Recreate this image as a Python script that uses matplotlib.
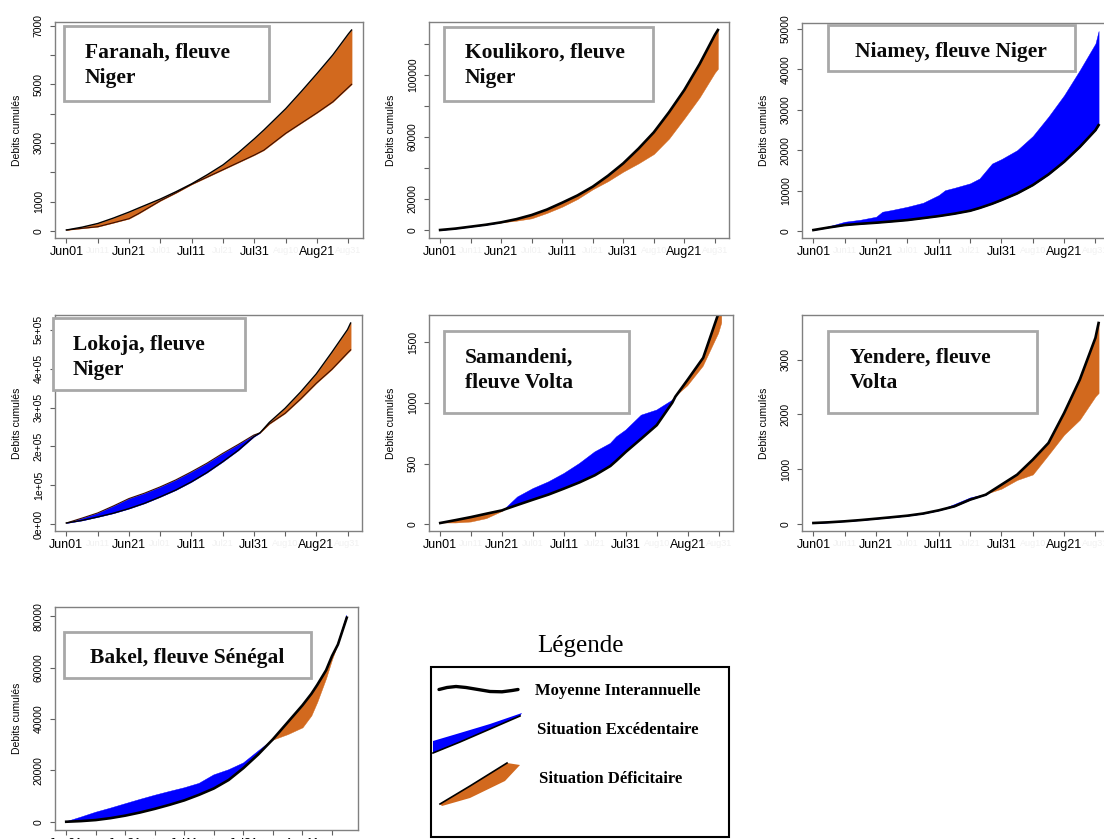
import matplotlib.pyplot as plt
from matplotlib.patches import Rectangle, Polygon
import numpy as np

plt.rcParams['font.family'] = ['Liberation Sans', 'DejaVu Sans']

BLUE = '#0000FF'
ORANGE = '#D2691E'
SERIF = 'Liberation Serif'

# =========================
# Data (days since Jun 01, cumulative discharge)
# =========================
faranah_days = [0, 5, 10, 15, 20, 23, 30, 35, 40, 45, 50, 55, 60, 63, 70, 75, 80, 85, 90, 91]
faranah_mean = [33, 130, 255, 440, 645, 780, 1090, 1340, 1610, 1920, 2255, 2680, 3145, 3440,
                4170, 4760, 5370, 6000, 6720, 6850]
faranah_obs = [33, 90, 145, 280, 420, 590, 1030, 1300, 1590, 1840, 2090, 2340, 2590, 2755,
               3330, 3680, 4030, 4400, 4900, 5000]

koulikoro_days = [0, 5, 10, 15, 20, 25, 30, 35, 40, 45, 50, 55, 60, 65, 70, 75, 80, 85, 90, 91]
koulikoro_mean = [0, 900, 2150, 3400, 4950, 7000, 9680, 13200, 17630, 22300, 27960, 35000,
                  43000, 52500, 63000, 76000, 90300, 107000, 125800, 129000]
koulikoro_obs = [0, 1000, 2300, 3500, 4900, 6000, 7530, 11000, 15050, 20000, 26240, 31500,
                 37630, 43000, 49000, 59000, 72000, 85500, 101500, 104000]

niamey_days = [0, 5, 10, 15, 20, 22, 25, 30, 35, 40, 42, 45, 50, 53, 57, 60, 65, 70, 75, 80, 85, 90, 91]
niamey_mean = [250, 900, 1480, 1800, 2060, 2190, 2380, 2720, 3200, 3700, 3940, 4300, 5020,
               5700, 6750, 7660, 9300, 11370, 14000, 17130, 20800, 24960, 26200]
niamey_obs = [250, 1200, 2300, 2800, 3540, 4780, 5200, 6010, 7000, 8900, 10100, 10700, 11800,
              13000, 16700, 17800, 20000, 23500, 28300, 33600, 39800, 46400, 49500]

lokoja_days = [0, 5, 10, 15, 20, 25, 30, 35, 40, 45, 50, 55, 60, 62, 65, 70, 75, 80, 85, 90, 91]
lokoja_mean = [3400, 10000, 18900, 28500, 40300, 54000, 70400, 88000, 109000, 133000, 160500,
               190000, 224900, 235000, 262000, 297900, 340000, 386300, 442000, 500000, 517000]
lokoja_obs = [3400, 16000, 29200, 47000, 66100, 80000, 96100, 114000, 134800, 157000, 182000,
              205000, 229200, 235000, 258000, 285000, 322000, 362200, 398000, 440000, 448000]

samandeni_days = [0, 5, 10, 15, 20, 21, 25, 30, 35, 40, 45, 50, 55, 57, 60, 65, 70, 75, 76, 80, 85, 90, 91]
samandeni_mean = [11, 35, 60, 88, 115, 125, 160, 203, 245, 294, 345, 404, 480, 525, 596, 705,
                  816, 1000, 1050, 1190, 1370, 1740, 1790]
samandeni_obs = [11, 11, 19, 47, 105, 129, 225, 294, 349, 418, 500, 596, 665, 720, 775, 898,
                 940, 1020, 1050, 1140, 1300, 1571, 1656]

yendere_days = [0, 5, 10, 15, 20, 25, 30, 35, 40, 45, 50, 55, 60, 65, 70, 75, 80, 85, 90, 91]
yendere_mean = [12, 25, 43, 65, 91, 118, 146, 185, 244, 317, 439, 530, 713, 896, 1171, 1476,
                2024, 2634, 3400, 3671]
yendere_obs = [12, 25, 48, 65, 91, 118, 146, 185, 244, 360, 480, 545, 640, 800, 900, 1260,
               1628, 1902, 2329, 2390]

bakel_days = [0, 5, 10, 15, 20, 25, 30, 35, 40, 45, 50, 55, 60, 65, 70, 75, 80, 83, 85, 88, 90, 92, 95]
bakel_mean = [0, 250, 660, 1400, 2380, 3600, 5020, 6600, 8330, 10500, 12960, 16260, 20890,
              26180, 32130, 38740, 45360, 49800, 53290, 59000, 64530, 69000, 79470]
bakel_obs = [0, 1800, 3700, 5300, 7010, 8700, 10310, 11800, 13220, 14940, 18250, 20230, 22880,
             27500, 32000, 34120, 36760, 41390, 46680, 55940, 63210, 69500, 80400]

tick_days = list(range(0, 91, 10))
month_labels = ["Jun01", "Jun11", "Jun21", "Jul01", "Jul11", "Jul21", "Jul31", "Aug10", "Aug21", "Aug31"]
bakel_labels = ["Jun01", "Jun11", "Jun21", "Jul01", "Jul11", "Jul21", "Jul31", "Aug01", "Aug11", "Aug21"]

# data, frame (px: left, top, right, bottom), y ticks, y labels, style
panels = [
    dict(days=faranah_days, mean=faranah_mean, obs=faranah_obs, frame=(55, 22, 363, 238),
         yticks=list(range(0, 7001, 1000)),
         ylabels=["0", "1000", "", "3000", "", "5000", "", "7000"],
         thin=True, xlabels=month_labels),
    dict(days=koulikoro_days, mean=koulikoro_mean, obs=koulikoro_obs, frame=(429, 22, 729, 238),
         yticks=list(range(0, 120001, 20000)),
         ylabels=["0", "20000", "", "60000", "", "100000", ""],
         thin=False, xlabels=month_labels),
    dict(days=niamey_days, mean=niamey_mean, obs=niamey_obs, frame=(802, 23, 1110, 238),
         yticks=list(range(0, 50001, 10000)),
         ylabels=["0", "10000", "20000", "30000", "40000", "50000"],
         thin=False, xlabels=month_labels),
    dict(days=lokoja_days, mean=lokoja_mean, obs=lokoja_obs, frame=(55, 315, 362, 531),
         yticks=list(range(0, 500001, 100000)),
         ylabels=["0e+00", "1e+05", "2e+05", "3e+05", "4e+05", "5e+05"],
         thin=True, xlabels=month_labels),
    dict(days=samandeni_days, mean=samandeni_mean, obs=samandeni_obs, frame=(429, 315, 733, 531),
         yticks=[0, 500, 1000, 1500], ylabels=["0", "500", "1000", "1500"],
         thin=False, xlabels=month_labels, ylim_obs=True),
    dict(days=yendere_days, mean=yendere_mean, obs=yendere_obs, frame=(802, 315, 1110, 531),
         yticks=[0, 1000, 2000, 3000], ylabels=["0", "1000", "2000", "3000"],
         thin=False, xlabels=month_labels),
    dict(days=bakel_days, mean=bakel_mean, obs=bakel_obs, frame=(55, 607, 358, 830),
         yticks=list(range(0, 80001, 20000)),
         ylabels=["0", "20000", "40000", "60000", "80000"],
         thin=False, xlabels=bakel_labels),
]

W, H = 1104, 839
fig = plt.figure(figsize=(W / 100, H / 100), dpi=100)

for p in panels:
    x0, y0, x1, y1 = p["frame"]
    ax = fig.add_axes([x0 / W, 1 - y1 / H, (x1 - x0) / W, (y1 - y0) / H])
    d = np.array(p["days"], dtype=float)
    m = np.array(p["mean"], dtype=float)
    o = np.array(p["obs"], dtype=float)

    ax.fill_between(d, m, o, where=o >= m, interpolate=True, color=BLUE, lw=0.3)
    ax.fill_between(d, m, o, where=o < m, interpolate=True, color=ORANGE, lw=0.3)
    if p["thin"]:
        ax.plot(d, o, color="#3a0c00", lw=0.8)
        ax.plot(d, m, color="black", lw=1.0)
    else:
        ax.plot(d, m, color="black", lw=1.9)

    # R-like 4% padding
    xpad = 0.04 * (d.max() - d.min())
    ax.set_xlim(d.min() - xpad, d.max() + xpad)
    vals = o if p.get("ylim_obs") else np.concatenate([m, o])
    ypad = 0.04 * (vals.max() - vals.min())
    ax.set_ylim(vals.min() - ypad, vals.max() + ypad)

    ax.set_xticks(tick_days)
    ax.set_xticklabels(p["xlabels"])
    ax.tick_params(axis="x", length=3.6, pad=2, labelsize=9, color="#606060")
    for i, lab in enumerate(ax.get_xticklabels()):
        if i % 2:
            lab.set_color("#f1f1f1")
            lab.set_fontsize(6.5)

    ax.set_yticks(p["yticks"])
    ax.set_yticklabels(p["ylabels"], rotation=90, va="center")
    ax.tick_params(axis="y", length=3.6, pad=4.5, labelsize=7.5, color="#606060")

    ax.set_ylabel("Debits cumulés", fontsize=7.5)
    ax.yaxis.set_label_coords(-33 / (x1 - x0), 0.5)

    for s in ax.spines.values():
        s.set_color("#808080")
        s.set_linewidth(1.0)

# =========================
# Overlay: station boxes and legend (pixel coordinates)
# =========================
ov = fig.add_axes([0, 0, 1, 1], zorder=10)
ov.set_xlim(0, W)
ov.set_ylim(H, 0)
ov.axis("off")
ov.patch.set_alpha(0)

boxes = [
    ((64, 26, 269, 101), [("Faranah, fleuve", 85, 58), ("Niger", 85, 83)], "left"),
    ((444, 27, 653, 101), [("Koulikoro, fleuve", 465, 58), ("Niger", 465, 83)], "left"),
    ((828, 25, 1075, 71), [("Niamey, fleuve Niger", 951, 57)], "center"),
    ((53, 318, 245, 390), [("Lokoja, fleuve", 73, 350), ("Niger", 73, 375)], "left"),
    ((444, 331, 629, 413), [("Samandeni,", 465, 363), ("fleuve Volta", 465, 388)], "left"),
    ((828, 331, 1037, 413), [("Yendere, fleuve", 850, 363), ("Volta", 850, 388)], "left"),
    ((64, 632, 311, 678), [("Bakel, fleuve Sénégal", 187, 663)], "center"),
]
for (bx0, by0, bx1, by1), lines, ha in boxes:
    ov.add_patch(Rectangle((bx0, by0), bx1 - bx0, by1 - by0, facecolor="white",
                           edgecolor="#a8a8a8", lw=2))
    for txt, tx, ty in lines:
        ov.text(tx, ty, txt, family=SERIF, weight="bold", fontsize=15.5,
                ha=ha, va="baseline", color="#0a0a0a")

# Legend
ov.text(580, 652, "Légende", family=SERIF, fontsize=18, ha="center", va="baseline")
ov.add_patch(Rectangle((431, 667), 298, 170, facecolor="white", edgecolor="black", lw=1.5))

wave_x = np.array([439, 447, 456, 466, 478, 490, 502, 512, 518])
wave_y = np.array([689.5, 687.5, 686.5, 687.5, 689.5, 691.5, 691.8, 690.5, 689.5])
ov.plot(wave_x, wave_y, color="black", lw=2.4, solid_capstyle="round")

ov.add_patch(Polygon([(433, 741), (460, 733), (490, 724), (522, 713), (520, 716),
                      (490, 729), (460, 742), (433, 753)], closed=True,
                     facecolor=BLUE, edgecolor="none"))
ov.plot([433, 460, 490, 520], [753, 742, 729, 716], color="black", lw=1.2)

ov.add_patch(Polygon([(440, 804), (470, 786), (507, 763), (520, 765), (505, 781),
                      (470, 798), (442, 806)], closed=True,
                     facecolor=ORANGE, edgecolor="none"))
ov.plot([440, 470, 507], [804, 786, 763], color="black", lw=1.2)

ov.text(535, 691, "Moyenne Interannuelle", family=SERIF, weight="bold", fontsize=12,
        ha="left", va="center")
ov.text(537, 730, "Situation Excédentaire", family=SERIF, weight="bold", fontsize=12,
        ha="left", va="center")
ov.text(539, 779, "Situation Déficitaire", family=SERIF, weight="bold", fontsize=12,
        ha="left", va="center")

fig.savefig("out.png", dpi=100)
